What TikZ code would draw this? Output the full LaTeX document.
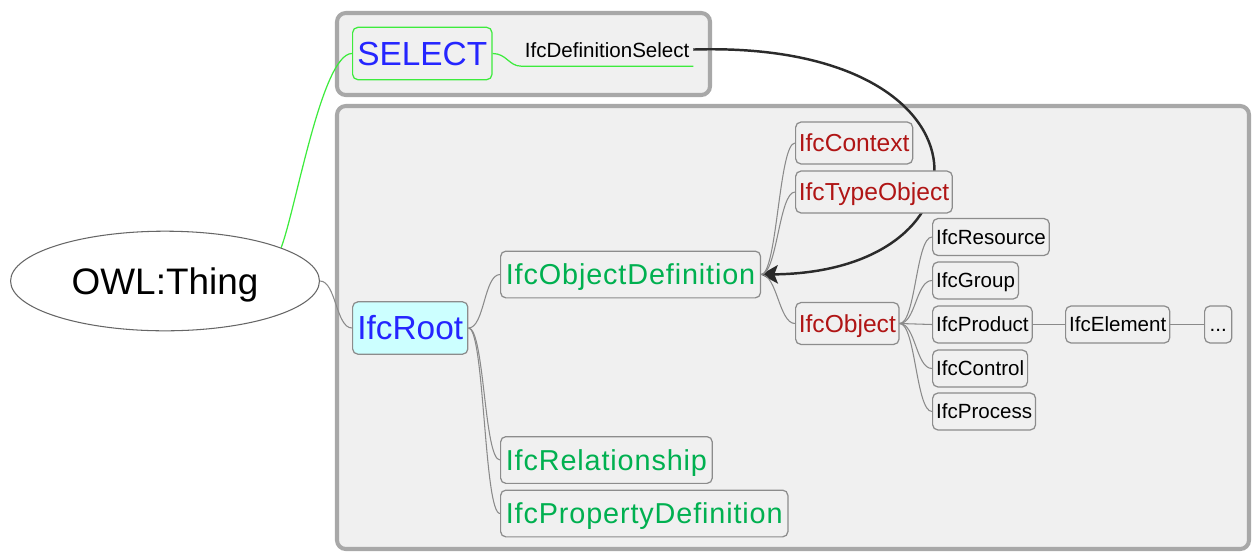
\documentclass[tikz,border=0pt]{standalone}
\usepackage{fontspec}
\setmainfont{Liberation Sans}
\newfontfamily\spacedfont[LetterSpace=3]{Liberation Sans}
\usetikzlibrary{shapes.geometric, arrows.meta, backgrounds}

\definecolor{panelfill}{HTML}{F0F0F0}
\definecolor{panelline}{HTML}{A8A8A8}
\definecolor{boxline}{HTML}{8C8C8C}
\definecolor{linegray}{HTML}{8A8A8A}
\definecolor{selblue}{HTML}{2525FF}
\definecolor{selgreen}{HTML}{3DEB3D}
\definecolor{defgreen}{HTML}{00B050}
\definecolor{objred}{HTML}{B01515}
\definecolor{rootcyan}{HTML}{CCFFFF}
\definecolor{arrowdark}{HTML}{2B2B2B}

\tikzset{
    panel/.style={draw=panelline, line width=2.3pt, fill=panelfill, rounded corners=5pt},
    cls/.style={draw=boxline, line width=0.7pt, fill=panelfill, rounded corners=3pt, inner ysep=0pt, text depth=0pt},
    toplevel/.style={cls, text=selblue, font=\fontsize{19}{22}\selectfont, text height=13.6pt, inner xsep=2.7pt, minimum height=29.8pt},
    lvlone/.style={cls, text=defgreen, font=\spacedfont\fontsize{16.4}{19}\selectfont, text height=11.7pt, inner xsep=3pt, minimum height=26.6pt},
    lvltwo/.style={cls, text=objred, font=\fontsize{14}{16}\selectfont, text height=10pt, inner xsep=1.8pt, minimum height=23.8pt},
    lvlthree/.style={cls, text=black, font=\fontsize{11.7}{14}\selectfont, text height=8.4pt, inner xsep=2pt, minimum height=21pt},
    thing/.style={ellipse, draw=black!60, line width=0.6pt, fill=white, minimum width=175.8pt, minimum height=56.7pt, inner sep=0pt, font=\fontsize{21}{24}\selectfont, text height=15pt, text depth=0pt},
    sublabel/.style={font=\fontsize{11.7}{14}\selectfont, inner xsep=2pt, inner ysep=5pt, text height=8.5pt, text depth=0pt},
    branch/.style={draw=linegray, line width=0.6pt, to path={.. controls +(16,0) and +(-16,0) .. (\tikztotarget)}},
    link/.style={draw=linegray, line width=0.6pt},
    selline/.style={draw=selgreen, line width=0.7pt},
    refarrow/.style={draw=arrowdark, line width=1.4pt, -{Stealth[length=9.5pt, width=10.5pt, inset=2pt]}}
}

\begin{document}
\begin{tikzpicture}[x=0.02cm, y=-0.02cm]
    \useasboundingbox (0,0) rectangle (1254,552);
    \begin{scope}[on background layer]
        \draw[panel] (337,13) rectangle (710,95);
        \draw[panel] (337,106) rectangle (1249,549);
    \end{scope}

    % root of the tree
    \node[thing] (owl) at (165,281) {OWL:Thing};

    % select branch
    \node[toplevel, draw=selgreen, anchor=west] (sel) at (352,53.5) {SELECT};
    \node[sublabel, anchor=base west] (defsel) at (521,57) {IfcDefinitionSelect};

    % entity branch
    \node[toplevel, fill=rootcyan, anchor=west] (root) at (352,328) {IfcRoot};
    \node[lvlone, anchor=west] (objdef) at (500,274.5) {IfcObjectDefinition};
    \node[lvlone, anchor=west] (rel) at (500,460) {IfcRelationship};
    \node[lvlone, anchor=west] (propdef) at (500,513.5) {IfcPropertyDefinition};

    \node[lvltwo, anchor=west] (ctx) at (795,143) {IfcContext};
    \node[lvltwo, anchor=west] (typeobj) at (795,192) {IfcTypeObject};
    \node[lvltwo, anchor=west] (obj) at (795,323.5) {IfcObject};

    \foreach \name/\y/\txt in {res/237/IfcResource, grp/280.5/IfcGroup, prd/324.5/IfcProduct, ctl/368.5/IfcControl, prc/411.5/IfcProcess}
        \node[lvlthree, anchor=west] (\name) at (932,\y) {\txt};
    \node[lvlthree, anchor=west] (elem) at (1065,324.5) {IfcElement};
    \node[lvlthree, anchor=west, minimum width=15.5pt] (more) at (1204,324.5) {...};

    % connectors
    \draw[selline] (owl.16) .. controls +(15,-40) and +(-30,0) .. (sel.west);
    \draw[selline] (sel.east) .. controls +(14,0) and +(-12,0) .. (defsel.south west) -- (defsel.south east);
    \draw[branch] (owl.east) to (root.west);
    \foreach \name in {objdef, rel, propdef}
        \draw[branch] (root.east) to (\name.west);
    \foreach \name in {ctx, typeobj, obj}
        \draw[branch] (objdef.east) to (\name.west);
    \foreach \name in {res, grp, prd, ctl, prc}
        \draw[branch] (obj.east) to (\name.west);
    \draw[link] (prd.east) -- (elem.west);
    \draw[link] (elem.east) -- (more.west);

    \begin{scope}[on background layer]
        \draw[refarrow] (defsel.east) .. controls (1000,40) and (1000,272) .. (objdef.east);
    \end{scope}
\end{tikzpicture}
\end{document}
